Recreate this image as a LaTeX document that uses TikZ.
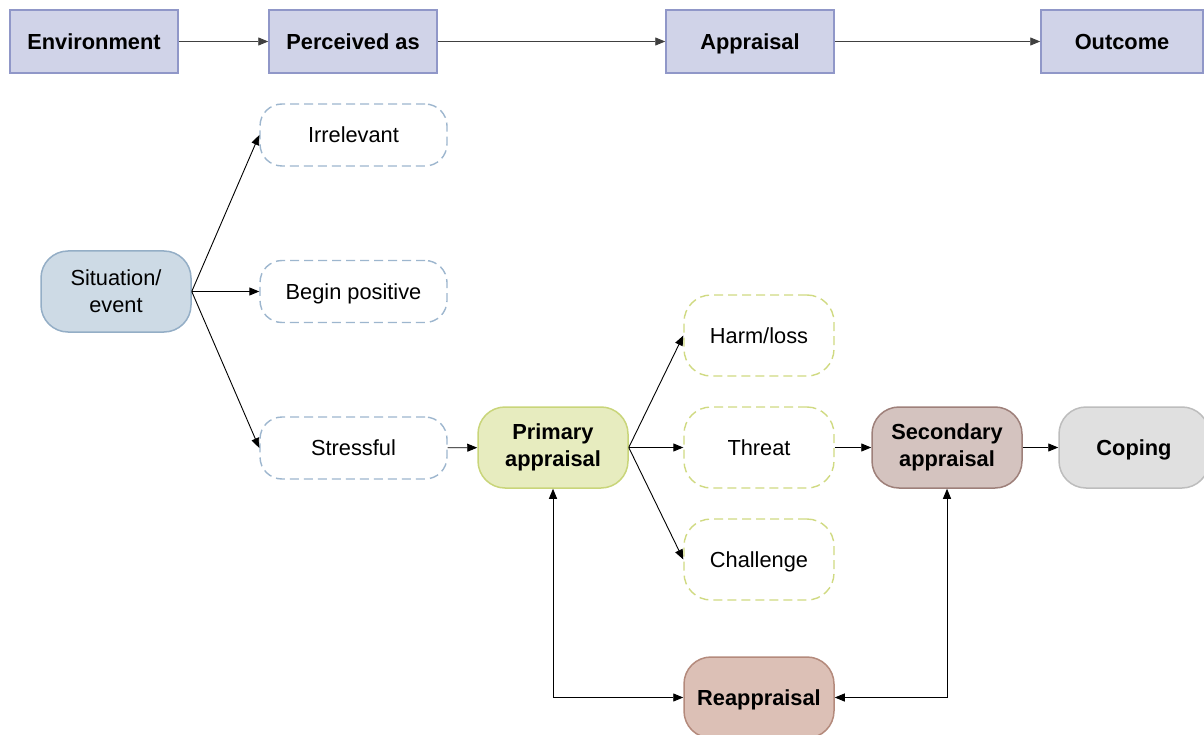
\documentclass[tikz,border=0pt]{standalone}
\usepackage{fontspec}
\setmainfont{Liberation Sans}
\usetikzlibrary{arrows.meta}
\definecolor{topfill}{HTML}{D0D3E8}
\definecolor{topline}{HTML}{9097C8}
\definecolor{sitfill}{HTML}{CDDAE5}
\definecolor{sitline}{HTML}{94AEC6}
\definecolor{blueDash}{HTML}{9DB6CE}
\definecolor{primfill}{HTML}{E7ECBF}
\definecolor{primline}{HTML}{C9D57A}
\definecolor{greenDash}{HTML}{D0DA82}
\definecolor{secfill}{HTML}{D4C3BF}
\definecolor{secline}{HTML}{9E807A}
\definecolor{copfill}{HTML}{E0E0E0}
\definecolor{copline}{HTML}{BDBDBD}
\definecolor{reafill}{HTML}{DCC0B6}
\definecolor{realine}{HTML}{B48A7C}
\newcommand{\lblfont}{\fontsize{21.8}{27}\selectfont}
\tikzset{
  txt/.style={font=\lblfont, align=center, inner sep=0pt},
  boldtxt/.style={font=\lblfont\bfseries},
  oneline/.style={text height=15.6pt, text depth=0pt},
  headbox/.style={txt, boldtxt, oneline, draw=topline, fill=topfill, line width=1.5pt, minimum width=168pt, minimum height=63pt},
  pill/.style={txt, rounded corners=27pt, line width=1.5pt, minimum width=150pt, minimum height=81pt},
  dashpill/.style={txt, oneline, rounded corners=22pt, line width=1.4pt, dash pattern=on 9pt off 5pt, fill=white},
  tip/.tip={Triangle[length=10pt,width=8pt]},
  arr/.style={-tip, line width=0.9pt, black},
  harr/.style={-tip, line width=0.9pt, black!75},
  darr/.style={tip-tip, line width=0.9pt, black},
}
\begin{document}
\begin{tikzpicture}[x=1pt,y=-1pt]
\useasboundingbox (0,0) rectangle (1204,735);

% header row
\node[headbox] (env) at (94,41.5) {Environment};
\node[headbox] (perc) at (353,41.5) {Perceived as};
\node[headbox] (appr) at (750,41.5) {Appraisal};
\node[headbox, minimum width=162pt] (outc) at (1122,41.5) {Outcome};
\draw[harr] (env) -- (perc);
\draw[harr] (perc) -- (appr);
\draw[harr] (appr) -- (outc);

% situation and perceptions
\node[pill, draw=sitline, fill=sitfill] (sit) at (116,291.5) {Situation/\\event};
\node[dashpill, draw=blueDash, minimum width=187pt, minimum height=62pt] (irr) at (353.5,135) {Irrelevant};
\node[dashpill, draw=blueDash, minimum width=187pt, minimum height=62pt] (pos) at (353.5,291.5) {Begin positive};
\node[dashpill, draw=blueDash, minimum width=187pt, minimum height=62pt] (str) at (353.5,448) {Stressful};
\draw[arr] (sit.east) -- (irr.west);
\draw[arr] (sit.east) -- (pos.west);
\draw[arr] (sit.east) -- (str.west);

% primary appraisal
\node[pill, boldtxt, draw=primline, fill=primfill] (prim) at (553,447.5) {Primary\\appraisal};
\draw[arr] (str) -- (prim);
\node[dashpill, draw=greenDash, rounded corners=27pt, minimum width=150pt, minimum height=81pt] (harm) at (759,335.5) {Harm/loss};
\node[dashpill, draw=greenDash, rounded corners=27pt, minimum width=150pt, minimum height=81pt] (thr) at (759,447.5) {Threat};
\node[dashpill, draw=greenDash, rounded corners=27pt, minimum width=150pt, minimum height=81pt] (chal) at (759,559.5) {Challenge};
\draw[arr] (prim.east) -- (harm.west);
\draw[arr] (prim.east) -- (thr.west);
\draw[arr] (prim.east) -- (chal.west);

% secondary appraisal and coping
\node[pill, boldtxt, draw=secline, fill=secfill] (sec) at (947,447.5) {Secondary\\appraisal};
\node[pill, boldtxt, oneline, draw=copline, fill=copfill] (cop) at (1134,447.5) {Coping};
\draw[arr] (thr) -- (sec);
\draw[arr] (sec) -- (cop);

% reappraisal loop
\node[pill, boldtxt, oneline, draw=realine, fill=reafill] (rea) at (759,697.5) {Reappraisal};
\draw[darr] (prim.south) |- (rea.west);
\draw[darr] (sec.south) |- (rea.east);
\end{tikzpicture}
\end{document}
